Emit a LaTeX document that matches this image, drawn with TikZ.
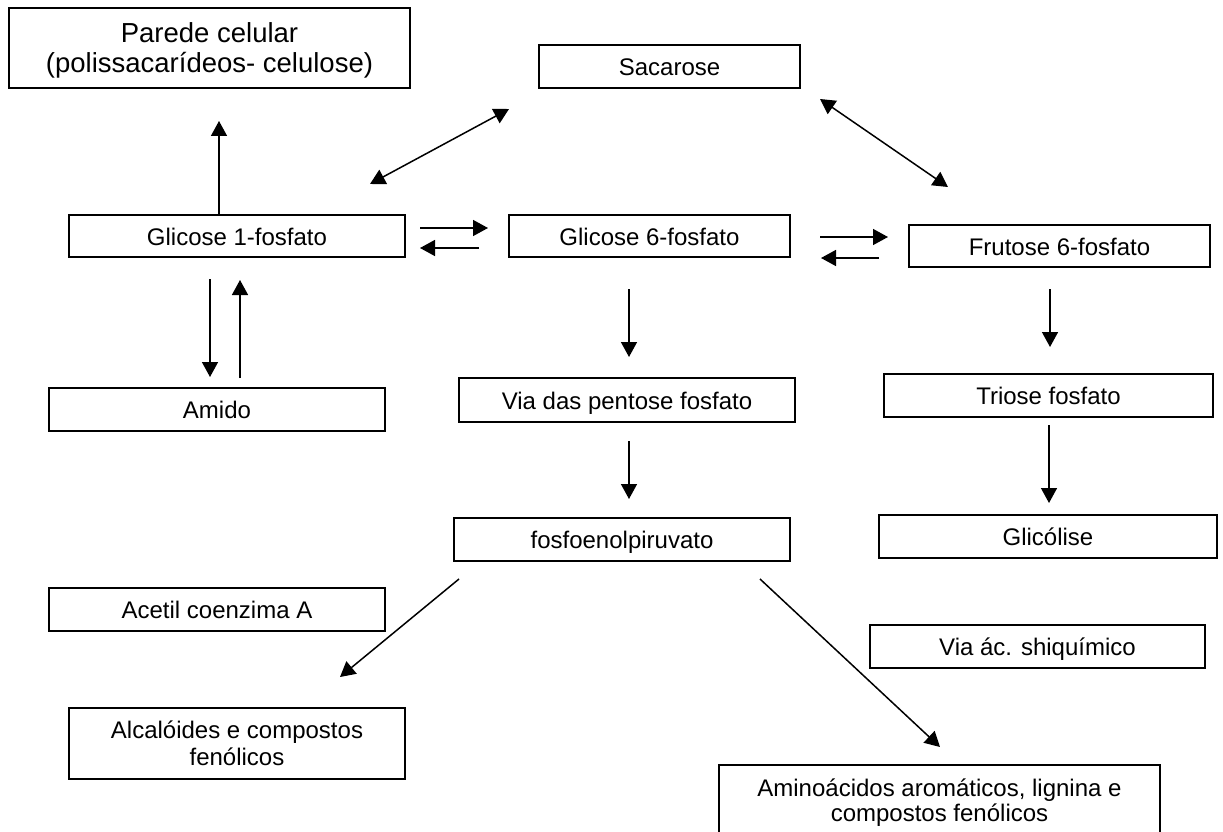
\documentclass[tikz,border=0pt]{standalone}
\usepackage{fontspec}
\setmainfont{Liberation Sans}
\usetikzlibrary{arrows.meta}
\begin{document}
\begin{tikzpicture}[x=1pt,y=-1pt,
  box/.style={draw, line width=2pt, inner sep=0pt, font=\fontsize{24}{26}\selectfont, text height=19pt, text depth=1pt},
  twoline/.style={draw, line width=2pt, inner sep=0pt, align=center, font=\fontsize{24}{27}\selectfont, text depth=0pt},
  tip/.tip={Triangle[length=15pt,width=16pt]},
  arr/.style={line width=1.5pt, -tip},
  dbl/.style={line width=1.5pt, tip-tip}]
\fill[white] (0,0) rectangle (1223,832);
\clip (0,0) rectangle (1223,832);
\useasboundingbox (0,0) rectangle (1223,832);

% nodes
\node[twoline, font=\fontsize{27.5}{30}\selectfont, minimum width=401pt, minimum height=80pt] (parede) at (209.5,48) {Parede celular\\(polissacarídeos- celulose)};
\node[box, minimum width=261pt, minimum height=43pt] (sac) at (669.5,66.5) {Sacarose};
\node[box, minimum width=336pt, minimum height=42pt] (g1p) at (237,236) {Glicose 1-fosfato};
\node[box, minimum width=281pt, minimum height=42pt] (g6p) at (649.5,236) {Glicose 6-fosfato};
\node[box, minimum width=301pt, minimum height=42pt] (f6p) at (1059.5,246) {Frutose 6-fosfato};
\node[box, minimum width=336pt, minimum height=43pt] (amido) at (217,409.5) {Amido};
\node[box, minimum width=336pt, minimum height=44pt] (via) at (627,400) {Via das pentose fosfato};
\node[box, minimum width=329pt, minimum height=43pt] (triose) at (1048.5,395.5) {Triose fosfato};
\node[box, minimum width=336pt, minimum height=43pt] (fosfo) at (622,539.5) {fosfoenolpiruvato};
\node[box, minimum width=338pt, minimum height=43pt] (glic) at (1048,536.5) {Glicólise};
\node[box, minimum width=336pt, minimum height=43pt] (acetil) at (217,609.5) {Acetil coenzima A};
\node[box, minimum width=335pt, minimum height=43pt] (shiq) at (1037.5,646.5) {Via ác. shiquímico};
\node[twoline, minimum width=336pt, minimum height=71pt] (alca) at (237,743.5) {Alcalóides e compostos\\fenólicos};
\node[twoline, font=\fontsize{24}{25}\selectfont, minimum width=441pt, minimum height=70pt] (amino) at (939.5,800) {Aminoácidos aromáticos, lignina e\\compostos fenólicos};

% connectors
\draw[arr] ([shift={(-18,0)}]g1p.north) -- ([shift={(9.5,32)}]parede.south);
\draw[dbl] ([shift={(133,-30)}]g1p.north) -- ([shift={(-160.5,20)}]sac.south);
\draw[dbl] ([shift={(150.5,10)}]sac.south) -- ([shift={(-111.5,-37)}]f6p.north);
\draw[arr] ([shift={(14,-8)}]g1p.east) -- ([shift={(-20,-8)}]g6p.west);
\draw[arr] ([shift={(-29,12)}]g6p.west) -- ([shift={(14,12)}]g1p.east);
\draw[arr] ([shift={(29,1)}]g6p.east) -- ([shift={(-20,-9)}]f6p.west);
\draw[arr] ([shift={(-29,12)}]f6p.west) -- ([shift={(30,22)}]g6p.east);
\draw[arr] ([shift={(-27,21)}]g1p.south) -- ([shift={(-7,-10)}]amido.north);
\draw[arr] ([shift={(23,-9)}]amido.north) -- ([shift={(3,22)}]g1p.south);
\draw[arr] ([shift={(-20.5,31)}]g6p.south) -- ([shift={(2,-20)}]via.north);
\draw[arr] ([shift={(2,18)}]via.south) -- ([shift={(7,-18)}]fosfo.north);
\draw[arr] ([shift={(-9.5,21)}]f6p.south) -- ([shift={(1.5,-26)}]triose.north);
\draw[arr] ([shift={(0.5,7)}]triose.south) -- ([shift={(1,-11)}]glic.north);
\draw[arr] ([shift={(6,17)}]fosfo.south west) -- ([shift={(103,-30)}]alca.north);
\draw[arr] ([shift={(-31,17)}]fosfo.south east) -- ([shift={(0.5,-17)}]amino.north);
\end{tikzpicture}
\end{document}
